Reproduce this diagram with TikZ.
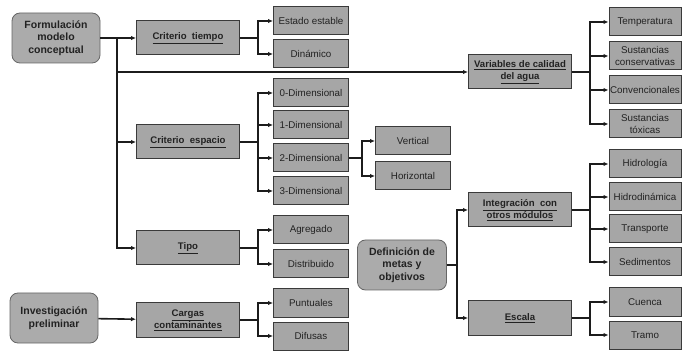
\documentclass[tikz,border=0pt]{standalone}
\usepackage{fontspec}
\setmainfont{Liberation Sans}
\usepackage{tikz}
\usetikzlibrary{arrows.meta}
\definecolor{boxgray}{HTML}{A6A6A6}
\definecolor{rootgray}{HTML}{ABABAB}
\definecolor{edgegray}{HTML}{3A3A3A}
\definecolor{linegray}{HTML}{1C1C1C}
\definecolor{txtgray}{HTML}{222222}
\tikzset{>={Latex[length=5pt,width=4.5pt]}}
\tikzset{
  root/.style={draw=gray!80!black, fill=rootgray, rounded corners=8pt, line width=0.8pt,
    minimum width=88pt, minimum height=50pt, align=center, text=txtgray,
    font=\bfseries\fontsize{10.5}{12.5}\selectfont},
  crit/.style={draw=edgegray, fill=boxgray, line width=1pt, minimum width=103pt,
    minimum height=34pt, align=center, text=txtgray, inner sep=1pt,
    font=\bfseries\fontsize{9.6}{12}\selectfont},
  leaf/.style={draw=edgegray, fill=boxgray, line width=1pt, minimum width=75pt,
    minimum height=28pt, align=center, text=txtgray, inner sep=1pt,
    font=\fontsize{9.8}{11.5}\selectfont},
  rleaf/.style={leaf, minimum width=72pt},
  conn/.style={draw=linegray, line width=1.6pt}
}
\newcommand{\undl}[1]{\underline{#1}}

\begin{document}
\begin{tikzpicture}[x=1pt, y=-1pt]
  \useasboundingbox (0,0) rectangle (682,352);
  % first level
  \node (form) at (56,38) [root] {Formulaci\'on\\modelo\\conceptual};
  \node (inv) at (54,318) [root] {Investigaci\'on\\preliminar};
  \node (defi) at (402,265) [root, minimum width=89pt] {Definici\'on de\\metas y\\objetivos};

  % second level
  \node (tiempo) at (188,38) [crit] {\undl{Criterio\ \ tiempo}};
  \node (espacio) at (188,142) [crit] {\undl{Criterio\ \ espacio}};
  \node (tipo) at (188,248) [crit] {\undl{Tipo}};
  \node (cargas) at (188,320) [crit] {\undl{Cargas}\\\undl{contaminantes}};
  \node (var) at (520,72) [crit] {\undl{Variables\ de calidad}\\\undl{del agua}};
  \node (integ) at (520,210) [crit] {\undl{Integraci\'on\ \ con}\\\undl{otros m\'odulos}};
  \node (escala) at (520,318) [crit] {\undl{Escala}};

  % leaves
  \node (estab) at (311,21) [leaf] {Estado estable};
  \node (dinam) at (311,54) [leaf] {Din\'amico};
  \node (dcero) at (311,93) [leaf] {0-Dimensional};
  \node (duno) at (311,125) [leaf] {1-Dimensional};
  \node (ddos) at (311,158) [leaf] {2-Dimensional};
  \node (dtres) at (311,191) [leaf] {3-Dimensional};
  \node (agreg) at (311,230) [leaf] {Agregado};
  \node (distr) at (311,264) [leaf] {Distribuido};
  \node (punt) at (311,303) [leaf] {Puntuales};
  \node (difu) at (311,336) [leaf] {Difusas};
  \node (vert) at (413,141) [leaf] {Vertical};
  \node (horiz) at (413,176) [leaf] {Horizontal};

  \node (temp) at (645,22) [rleaf] {Temperatura};
  \node (sustc) at (645,56) [rleaf] {Sustancias\\conservativas};
  \node (conv) at (645,90) [rleaf] {Convencionales};
  \node (sustt) at (645,124) [rleaf] {Sustancias\\t\'oxicas};
  \node (hidrol) at (645,164) [rleaf] {Hidrolog\'ia};
  \node (hidrod) at (645,197) [rleaf] {Hidrodin\'amica};
  \node (transp) at (645,229) [rleaf] {Transporte};
  \node (sedim) at (645,262) [rleaf] {Sedimentos};
  \node (cuenca) at (645,302) [rleaf] {Cuenca};
  \node (tramo) at (645,335) [rleaf] {Tramo};

  % trunk of the model
  \coordinate (tr) at (117,38);
  \draw[conn] (form) -- (tr);
  \draw[conn, ->] (tr) -- (tiempo);
  \draw[conn, ->] (tr) |- (espacio.west);
  \draw[conn, ->] (tr) |- (tipo.west);
  \draw[conn, ->] (tr) |- (var.west);
  \draw[conn, ->] (inv) -- (cargas);

  % branches
  \foreach \p/\c/\d in {tiempo/estab/18, tiempo/dinam/18, espacio/dcero/18, espacio/duno/18,
      espacio/ddos/18, espacio/dtres/18, tipo/agreg/18, tipo/distr/18, cargas/punt/18,
      cargas/difu/18, ddos/vert/13, ddos/horiz/13, var/temp/18, var/sustc/18, var/conv/18,
      var/sustt/18, integ/hidrol/18, integ/hidrod/18, integ/transp/18, integ/sedim/18,
      escala/cuenca/18, escala/tramo/18, defi/integ/10, defi/escala/10}
    \draw[conn, ->] (\p.east) -- ++(\d,0) |- (\c.west);
\end{tikzpicture}
\end{document}
